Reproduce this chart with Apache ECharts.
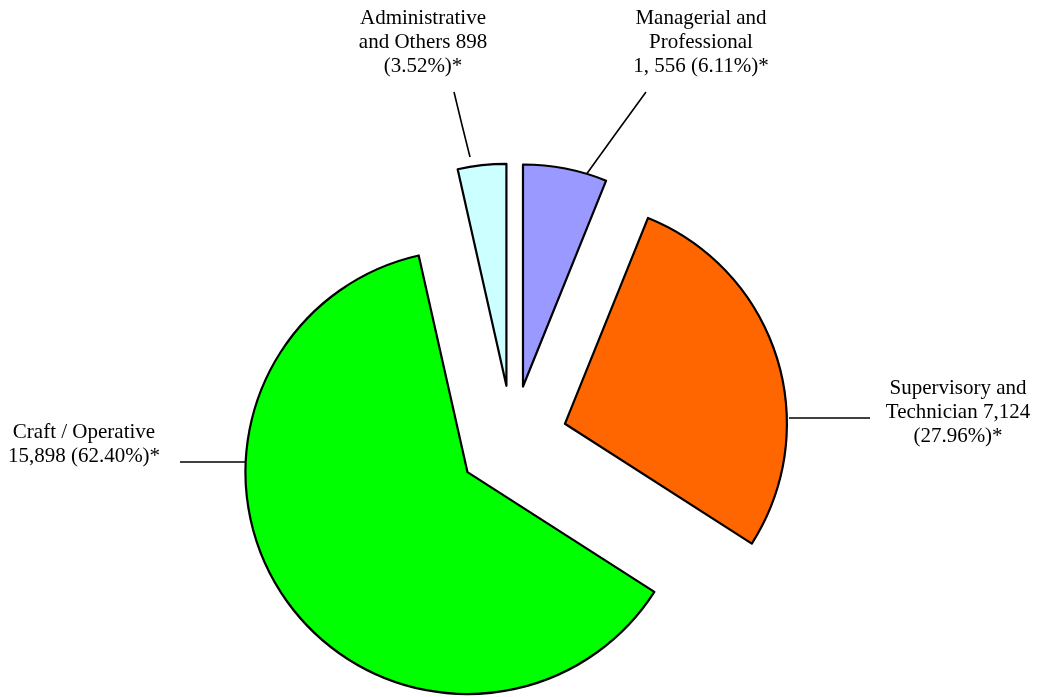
<!DOCTYPE html>
<html>
<head>
<meta charset="utf-8">
<script src="https://cdn.jsdelivr.net/npm/echarts@6/dist/echarts.min.js"></script>
<style>html,body{margin:0;padding:0;background:#fff;}#c{width:1037px;height:697px;}</style>
</head>
<body>
<div id="c"></div>
<script>
const categories = ['Managerial and Professional', 'Supervisory and Technician', 'Craft / Operative', 'Administrative and Others'];
const values = [1556, 7124, 15898, 898];
const labelTexts = [
  'Managerial and\nProfessional\n1, 556 (6.11%)*',
  'Supervisory and\nTechnician 7,124\n(27.96%)*',
  'Craft / Operative\n15,898 (62.40%)*',
  'Administrative\nand Others 898\n(3.52%)*'
];
const colors = ['#9999FF', '#FF6600', '#00FF00', '#CCFFFF'];

// layout
const baseCenter = [512.5, 440.5];
const explode = 55;
const radius = 222;
const labelPos = [[701, 42], [958, 412], [84, 444], [423, 42]];
const leader = [
  [[583, 179], [614, 136], [646, 92]],
  [[789, 418], [830, 418], [870, 418]],
  [[245, 462], [212, 462], [180, 462]],
  [[470, 157], [462, 125], [454, 92]]
];

const total = values.reduce((a, b) => a + b, 0);
let cum = 0;
const series = values.map((v, i) => {
  const mid = (cum + v / 2) / total * 2 * Math.PI;
  cum += v;
  const cx = baseCenter[0] + explode * Math.sin(mid);
  const cy = baseCenter[1] - explode * Math.cos(mid);
  return {
    type: 'pie',
    center: [cx, cy],
    radius: radius,
    startAngle: 90,
    clockwise: true,
    avoidLabelOverlap: false,
    silent: true,
    emphasis: {disabled: true},
    label: {
      fontFamily: 'Liberation Serif',
      fontSize: 21,
      lineHeight: 24,
      color: '#000',
      align: 'center',
      formatter: p => labelTexts[p.dataIndex]
    },
    labelLine: {lineStyle: {color: '#000', width: 1.6}},
    labelLayout: function (p) {
      const k = p.dataIndex;
      return {
        x: labelPos[k][0], y: labelPos[k][1],
        align: 'center', verticalAlign: 'middle',
        labelLinePoints: leader[k]
      };
    },
    data: categories.map((c, j) => ({
      name: c, value: values[j],
      itemStyle: j === i
        ? {color: colors[j], borderColor: '#000', borderWidth: 2.2}
        : {color: 'rgba(0,0,0,0)', borderWidth: 0},
      label: {show: j === i},
      labelLine: {show: j === i}
    }))
  };
});

const chart = echarts.init(document.getElementById('c'), null, {renderer: 'canvas'});
chart.setOption({backgroundColor: '#fff', animation: false, series: series});
</script>
</body>
</html>
